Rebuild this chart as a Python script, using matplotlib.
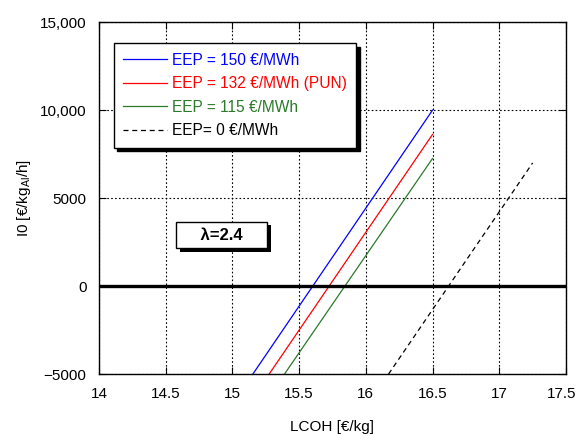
import matplotlib
matplotlib.use("Agg")
import matplotlib.pyplot as plt
import matplotlib.patheffects as pe
from matplotlib.transforms import ScaledTranslation

plt.rcParams['font.family'] = ['Liberation Sans', 'DejaVu Sans']

# LCOH [€/kg] endpoints and corresponding I0 values for each electricity price
lcoh_150 = [15.153, 16.5]
i0_150 = [-5000, 10000]
lcoh_132 = [15.275, 16.5]
i0_132 = [-5000, 8620]
lcoh_115 = [15.39, 16.5]
i0_115 = [-5000, 7256]
lcoh_0 = [16.17, 17.25]
i0_0 = [-5000, 7000]

x_ticks = [14, 14.5, 15, 15.5, 16, 16.5, 17, 17.5]
x_tick_labels = ['14', '14.5', '15', '15.5', '16', '16.5', '17', '17.5']
y_ticks = [-5000, 0, 5000, 10000, 15000]
y_tick_labels = ['\u22125000', '0', '5000', '10,000', '15,000']

labels = ['EEP = 150 €/MWh', 'EEP = 132 €/MWh (PUN)', 'EEP = 115 €/MWh', 'EEP= 0 €/MWh']
colors = ['#0000ff', '#ff0000', '#2a7a2a', 'black']

fig = plt.figure(figsize=(5.79, 4.34), dpi=100)
ax = fig.add_axes([0.171, 0.138, 0.8065, 0.811])

ax.plot(lcoh_150, i0_150, color=colors[0], lw=0.9, label=labels[0])
ax.plot(lcoh_132, i0_132, color=colors[1], lw=0.9, label=labels[1])
ax.plot(lcoh_115, i0_115, color=colors[2], lw=0.9, label=labels[2])
ax.plot(lcoh_0, i0_0, color=colors[3], lw=0.9, ls=(0, (4, 3)), label=labels[3])

ax.axhline(0, color='black', lw=2.4, zorder=3)

ax.set_xlim(14, 17.5)
ax.set_ylim(-5000, 15000)
ax.set_xticks(x_ticks)
ax.set_xticklabels(x_tick_labels)
ax.set_yticks(y_ticks)
ax.set_yticklabels(y_tick_labels)
ax.tick_params(direction='in', length=5, width=0.8, labelsize=11,
               top=True, right=True, pad=9)
ax.grid(True, color='black', ls=(0, (1.5, 2)), lw=0.8)
for s in ax.spines.values():
    s.set_linewidth(1.0)

# keep the last x tick label inside the canvas
last = ax.get_xticklabels()[-1]
last.set_transform(last.get_transform() + ScaledTranslation(-3 / 72, 0, fig.dpi_scale_trans))

ax.set_xlabel('LCOH [€/kg]', fontsize=11, labelpad=14)
ax.set_ylabel('I0 [€/kg$_{\\mathregular{Al}}$/h]', fontsize=11, labelpad=5)

leg = ax.legend(loc='upper left', bbox_to_anchor=(0.032, 0.940), fontsize=11.2,
                frameon=True, fancybox=False, handlelength=2.8,
                borderpad=0.6, labelspacing=0.55, handletextpad=0.33,
                borderaxespad=0,
                shadow={'color': 'black', 'alpha': 1.0, 'ox': 2.5, 'oy': -2.5})
leg.get_frame().set_edgecolor('black')
leg.get_frame().set_linewidth(1.0)
leg.get_frame().set_alpha(1.0)
for txt, c in zip(leg.get_texts(), colors):
    txt.set_color(c)

t = ax.text(14.92, 2900, '    λ=2.4    ', fontsize=12, fontweight='bold',
            ha='center', va='center', zorder=5,
            bbox=dict(boxstyle='square,pad=0.35', fc='white', ec='black', lw=1.0))
t.get_bbox_patch().set_path_effects([
    pe.SimplePatchShadow(offset=(2.5, -2.5), shadow_rgbFace='black', alpha=1.0),
    pe.Normal()])

fig.savefig('out.png', dpi=100)
